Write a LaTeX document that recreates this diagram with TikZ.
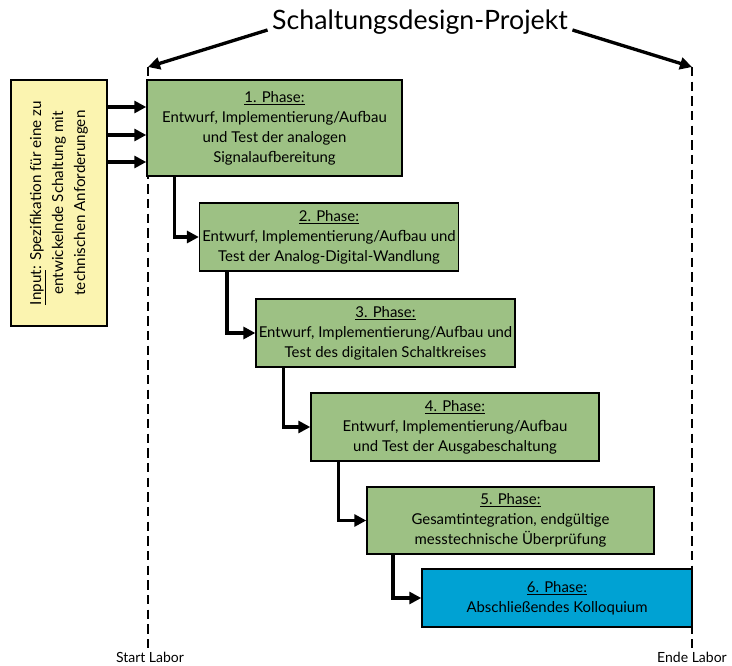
\documentclass[tikz,border=0pt]{standalone}
\usepackage{fontspec}
\setmainfont{Lato}
\usepackage{xcolor}
\definecolor{phasegreen}{RGB}{157,193,132}
\definecolor{inputyellow}{RGB}{251,244,176}
\definecolor{finalblue}{RGB}{0,162,211}
\usetikzlibrary{arrows.meta,positioning,calc}

\begin{document}
\begin{tikzpicture}[x=0.75pt,y=-0.75pt,
  phasebox/.style={draw,line width=1.1pt,fill=phasegreen,align=center,
    font=\fontsize{11.2}{15}\selectfont,inner sep=2pt},
  flow/.style={line width=2.5pt,-{Triangle[length=9pt,width=9pt]}},
  labor/.style={dashed,line width=0.9pt,dash pattern=on 7pt off 4pt},
  laborlabel/.style={font=\fontsize{10.5}{12}\selectfont,inner sep=0.5pt}
]
  \useasboundingbox (0,0) rectangle (732,666);
  % title and project span
  \node[font=\fontsize{20}{24}\selectfont] (titel) at (420,22) {Schaltungsdesign-Projekt};
  \coordinate (start) at (148,67);
  \coordinate (ende) at (692,67);
  \coordinate (startunten) at (148,650);
  \coordinate (endeunten) at (692,648);
  \draw[labor] (start) -- (startunten);
  \draw[labor] (ende) -- (endeunten);
  \draw[flow] ([yshift=-6pt]titel.west) -- (start);
  \draw[flow] ([yshift=-6pt]titel.east) -- (ende);
  \node[laborlabel] (startlabel) at (150,657) {Start Labor};
  \node[laborlabel] (endelabel) at (692,657) {Ende Labor};
  % input specification
  \node[draw,line width=1.1pt,fill=inputyellow,minimum width=184.5pt,minimum height=72pt,
    rotate=90,align=center,font=\fontsize{11.4}{16.5}\selectfont] (input) at (59,203)
    {\underline{Input}: Spezifikation für eine zu\\entwickelnde Schaltung mit\\technischen Anforderungen};
  % phases
  \node[phasebox,minimum width=191.25pt,minimum height=72pt] (p1) at (274.5,128)
    {\underline{1. Phase:}\\Entwurf, Implementierung/Aufbau\\und Test der analogen\\Signalaufbereitung};
  \node[phasebox,minimum width=192pt,minimum height=51pt] (p2) at (329,237)
    {\underline{2. Phase:}\\Entwurf, Implementierung/Aufbau und\\Test der Analog-Digital-Wandlung};
  \node[phasebox,minimum width=192.75pt,minimum height=51pt] (p3) at (385.5,333)
    {\underline{3. Phase:}\\Entwurf, Implementierung/Aufbau und\\Test des digitalen Schaltkreises};
  \node[phasebox,minimum width=216pt,minimum height=51pt] (p4) at (455,427)
    {\underline{4. Phase:}\\Entwurf, Implementierung/Aufbau\\und Test der Ausgabeschaltung};
  \node[phasebox,minimum width=215.25pt,minimum height=50.25pt] (p5) at (510.5,520.5)
    {\underline{5. Phase:}\\Gesamtintegration, endgültige\\messtechnische Überprüfung};
  \node[phasebox,fill=finalblue,minimum width=202.5pt,minimum height=43.5pt] (p6) at (557,598)
    {\underline{6. Phase:}\\Abschließendes Kolloquium};
  % input arrows
  \foreach \yy in {107,135,162}
    \draw[flow] (input.south |- 0,\yy) -- (p1.west |- 0,\yy);
  % phase sequence
  \draw[flow] ([xshift=21pt]p1.south west) |- (p2.west);
  \draw[flow] ([xshift=21pt]p2.south west) |- (p3.west);
  \draw[flow] ([xshift=21pt]p3.south west) |- (p4.west);
  \draw[flow] ([xshift=21pt]p4.south west) |- (p5.west);
  \draw[flow] ([xshift=20pt]p5.south west) |- (p6.west);
\end{tikzpicture}
\end{document}
